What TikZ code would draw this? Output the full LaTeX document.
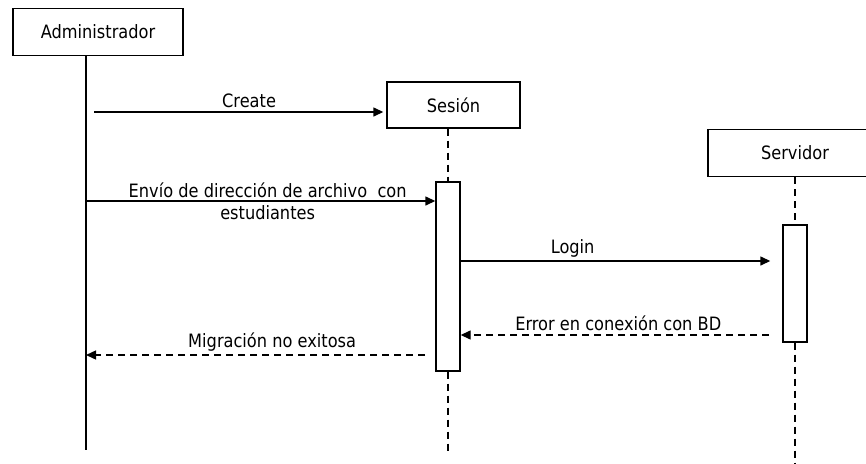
\documentclass[tikz,border=0pt]{standalone}
\usepackage{fontspec}
\setmainfont{DejaVu Sans}[FakeStretch=0.88]
\usetikzlibrary{arrows.meta}
\begin{document}
\begin{tikzpicture}[x=1pt, y=-1pt,
   every node/.style={font=\fontsize{18.4}{22}\selectfont},
   actor/.style={draw, rectangle, line width=1.4pt, minimum height=47pt},
   activ/.style={draw, rectangle, line width=1.4pt, fill=white, minimum width=24pt, inner sep=0pt},
   msg/.style={line width=1.4pt, -{Triangle[length=10pt,width=9pt]}},
   reply/.style={msg, dash pattern=on 7pt off 5pt},
   life/.style={line width=1.4pt, dash pattern=on 7pt off 5pt}]

\useasboundingbox (0,0) rectangle (866,463);

\node[actor, minimum width=170pt] (adm) at (98,32) {Administrador};
\node[actor, minimum width=133pt, minimum height=46pt] (ses) at (453.5,105) {Sesión};
\node[actor, minimum width=174pt] (srv) at (795,153) {Servidor};

\node[activ, minimum height=189pt] (actS) at (448,276.5) {};
\node[activ, minimum height=117pt] (actV) at (795,283.5) {};

% lifelines
\coordinate (admL) at ([xshift=-12pt]adm.south);
\draw[line width=1.4pt] (admL) -- ++(0,394);
\draw[life] ([xshift=-5.5pt]ses.south) -- (actS.north);
\draw[life] (actS.south) -- ++(0,79);
\draw[life] (srv.south) -- (actV.north);
\draw[life] (actV.south) -- ++(0,125);

% messages
\coordinate (create) at (94,112);
\coordinate (envio) at (86,201);
\coordinate (login) at (460,261);
\coordinate (error) at (769,335);
\coordinate (migra) at (425,355);

\draw[msg] (create) -- ([xshift=-3pt]ses.west |- create)
    node[pos=.536, above=0pt] {Create};
\draw[msg] (envio) -- (actS.west |- envio)
    node[pos=.52, align=center] {Envío de dirección de archivo\ \ con\\estudiantes};
\draw[msg] (login) -- ([xshift=-12pt]actV.west |- login)
    node[pos=.363, above=0pt] {Login};
\draw[reply] (error) -- (actS.east |- error)
    node[pos=.489, above=0pt] {Error en conexión con BD};
\draw[reply] (migra) -- (admL |- migra)
    node[pos=.451, above=0pt] {Migración no exitosa};

\end{tikzpicture}
\end{document}
